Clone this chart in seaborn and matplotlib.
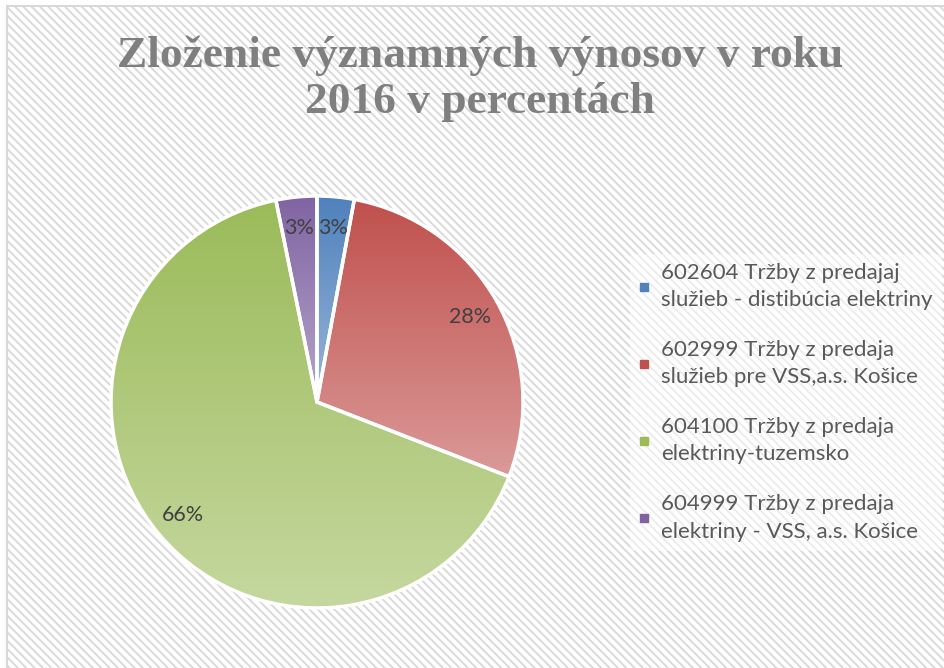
import numpy as np
import seaborn as sns
import matplotlib.pyplot as plt
from matplotlib.patches import Rectangle
from matplotlib.lines import Line2D
from matplotlib.colors import to_rgb

sns.set_theme(style="white")
plt.rcParams['font.family'] = ['Lato', 'DejaVu Sans']
plt.rcParams['hatch.color'] = "#E3E3E3"
plt.rcParams['hatch.linewidth'] = 1.35

# data
labels = [
    "602604 Tržby z predajaj\nslužieb - distibúcia elektriny",
    "602999 Tržby z predaja\nslužieb pre VSS,a.s. Košice",
    "604100 Tržby z predaja\nelektriny-tuzemsko",
    "604999 Tržby z predaja\nelektriny - VSS, a.s. Košice",
]
shares = [2.9, 28.0, 65.9, 3.2]
colors = ["#4F81BD", "#C0504D", "#9BBB59", "#8064A2"]
title = "Zloženie významných výnosov v roku\n2016 v percentách"

fig = plt.figure(figsize=(9.44, 6.68), dpi=100)
fig.patch.set_facecolor("white")

# hatched background with thin border (only top/left edge visible)
bg = Rectangle((7 / 944, -0.05), 1.1, (668 - 6) / 668 + 0.05, transform=fig.transFigure,
               facecolor="white", edgecolor="#D9D9D9", linewidth=1.5,
               hatch="\\\\\\\\", zorder=0)
fig.patches.append(bg)

# pie axes: centre (317, 402) px, radius 206 px
ax = fig.add_axes([(317 - 206) / 944, (668 - 402 - 206) / 668, 412 / 944, 412 / 668])
ax.set_zorder(2)
ax.set_facecolor("none")
wedges, texts, autotexts = ax.pie(
    shares, colors=colors, startangle=90, counterclock=False,
    autopct="%1.0f%%", pctdistance=0.85, radius=1,
    wedgeprops=dict(edgecolor="white", linewidth=2.5),
    textprops=dict(color="#404040", fontsize=15.5),
)

# vertical gradient fill for each wedge (dark top, lighter bottom)
for w, c in zip(wedges, colors):
    base = np.array(to_rgb(c))
    th = np.radians(np.linspace(w.theta1, w.theta2, 200))
    ys = np.concatenate([[0.0], np.sin(th)])
    ymin, ymax = ys.min(), ys.max()
    t = np.linspace(0, 0.42, 256)[:, None]
    grad = base[None, :] * (1 - t) + t
    im = ax.imshow(grad[:, None, :], extent=(-1, 1, ymin, ymax), origin="upper",
                   aspect="auto", zorder=1)
    im.set_clip_path(w)
    w.set_facecolor("none")
    w.set_zorder(2)
for t in autotexts:
    t.set_zorder(5)
ax.set_xlim(-1.0, 1.0)
ax.set_ylim(-1.0, 1.0)
ax.set_aspect("equal")
ax.axis("off")

# title
fig.text(480 / 944, 1 - 79 / 668, title, ha="center", va="center",
         family=["Liberation Serif", "DejaVu Serif"], fontweight="bold",
         fontsize=32.7, color="#7F7F7F", linespacing=1.2, zorder=3)

# legend
handles = [Line2D([], [], marker="s", linestyle="none", markersize=6,
                  markerfacecolor=c, markeredgecolor=c) for c in colors]
leg = fig.legend(handles, labels, loc="upper left", bbox_to_anchor=(630 / 944, 1 - 254 / 668),
                 frameon=True, fontsize=16, labelcolor="#595959", handlelength=0.5,
                 handletextpad=0.5, labelspacing=1.35, borderaxespad=0)
leg.set_zorder(3)
leg.get_frame().set_facecolor("white")
leg.get_frame().set_alpha(0.5)
leg.get_frame().set_linewidth(0)
for txt in leg.get_texts():
    txt.set_linespacing(1.45)

fig.savefig("out.png", dpi=100)
